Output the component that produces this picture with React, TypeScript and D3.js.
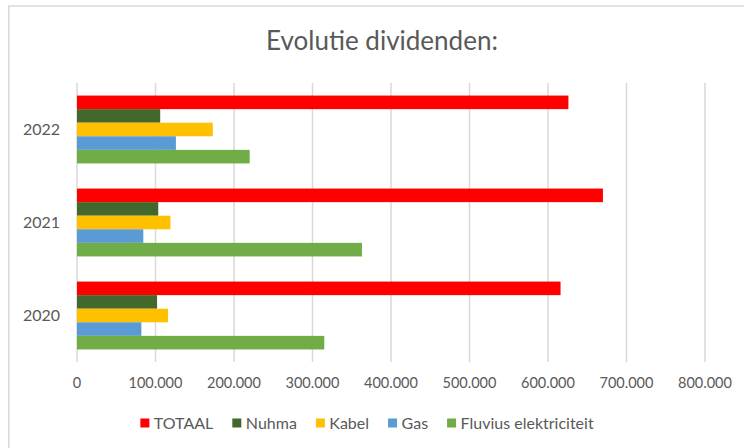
import React, { useEffect, useRef } from "react";
import * as d3 from "d3";

const years = ["2022", "2021", "2020"];
const seriesNames = ["TOTAAL", "Nuhma", "Kabel", "Gas", "Fluvius elektriciteit"];
const seriesColors = ["#FF0000", "#43682B", "#FFC000", "#5B9BD5", "#70AD47"];

// values per series, in the order of years (2022, 2021, 2020)
const totaal = [626000, 670000, 616000];
const nuhma = [106000, 103500, 102000];
const kabel = [173000, 119000, 116000];
const gas = [126000, 84500, 82000];
const fluvius = [220000, 363000, 315000];

const xTicks = [0, 100000, 200000, 300000, 400000, 500000, 600000, 700000, 800000];

const W = 744;
const H = 448;
const FONT = "Lato, 'Open Sans', sans-serif";
const TEXT = "#595959";

export default function App() {
  const ref = useRef<SVGSVGElement>(null);

  useEffect(() => {
    const svg = d3.select(ref.current);
    svg.selectAll("*").remove();

    const seriesValues = [totaal, nuhma, kabel, gas, fluvius];
    const rows = years.flatMap((year, i) =>
      seriesNames.map((name, s) => ({ year, name, color: seriesColors[s], value: seriesValues[s][i] }))
    );

    const plot = { left: 77, right: 705, top: 83, bottom: 362 };

    const x = d3.scaleLinear().domain([0, 800000]).range([plot.left, plot.right]);
    const p = 0.27;
    const y = d3.scaleBand().domain(years).range([plot.top, plot.bottom]).paddingInner(p).paddingOuter(p / 2);
    const ySub = d3.scaleBand().domain(seriesNames).range([0, y.bandwidth()]).padding(0);

    const locale = d3.formatLocale({ decimal: ",", thousands: ".", grouping: [3], currency: ["", ""] });
    const fmt = locale.format(",.0f");

    // chart border
    svg.append("rect")
      .attr("x", 8.75).attr("y", 6)
      .attr("width", W).attr("height", H)
      .attr("fill", "white")
      .attr("stroke", "#d9d9d9")
      .attr("stroke-width", 1.5);

    // title
    svg.append("text")
      .attr("x", 382).attr("y", 50)
      .attr("text-anchor", "middle")
      .attr("font-family", FONT)
      .attr("font-size", 26)
      .attr("fill", TEXT)
      .text("Evolutie dividenden:");

    // gridlines
    svg.append("g")
      .selectAll("line")
      .data(xTicks)
      .join("line")
      .attr("x1", d => x(d)).attr("x2", d => x(d))
      .attr("y1", plot.top).attr("y2", plot.bottom)
      .attr("stroke", "#d9d9d9")
      .attr("stroke-width", 1.5);

    // bars
    svg.append("g")
      .selectAll("rect")
      .data(rows)
      .join("rect")
      .attr("x", x(0))
      .attr("y", d => (y(d.year) as number) + (ySub(d.name) as number))
      .attr("width", d => x(d.value) - x(0))
      .attr("height", ySub.bandwidth())
      .attr("fill", d => d.color);

    // x tick labels
    svg.append("g")
      .selectAll("text")
      .data(xTicks)
      .join("text")
      .attr("x", d => x(d))
      .attr("y", 388)
      .attr("text-anchor", "middle")
      .attr("font-family", FONT)
      .attr("font-size", 14.5)
      .attr("fill", TEXT)
      .text(d => fmt(d));

    // year labels
    svg.append("g")
      .selectAll("text")
      .data(years)
      .join("text")
      .attr("x", 60)
      .attr("y", d => (y(d) as number) + y.bandwidth() / 2)
      .attr("dy", "0.35em")
      .attr("text-anchor", "end")
      .attr("font-family", FONT)
      .attr("font-size", 16)
      .attr("fill", TEXT)
      .text(d => d);

    // legend
    const legend = svg.append("g");
    const items = legend.selectAll("g")
      .data(seriesNames)
      .join("g");
    items.append("rect")
      .attr("width", 9).attr("height", 9)
      .attr("y", 418.5)
      .attr("fill", (d, i) => seriesColors[i]);
    items.append("text")
      .attr("x", 13.5)
      .attr("y", 423)
      .attr("dy", "0.35em")
      .attr("font-family", FONT)
      .attr("font-size", 16)
      .attr("fill", TEXT)
      .text(d => d);

    const widths: number[] = [];
    items.select("text").each(function () {
      widths.push((this as SVGTextElement).getComputedTextLength());
    });
    const gap = 19;
    const total = d3.sum(widths, w => 13.5 + w) + gap * (widths.length - 1);
    let cx = 367 - total / 2;
    items.attr("transform", (d, i) => {
      const t = `translate(${cx},0)`;
      cx += 13.5 + widths[i] + gap;
      return t;
    });
  }, []);

  return (
    <svg
      ref={ref}
      width={W}
      height={H}
      style={{ position: "absolute", left: 0, top: 0, background: "white" }}
    />
  );
}
